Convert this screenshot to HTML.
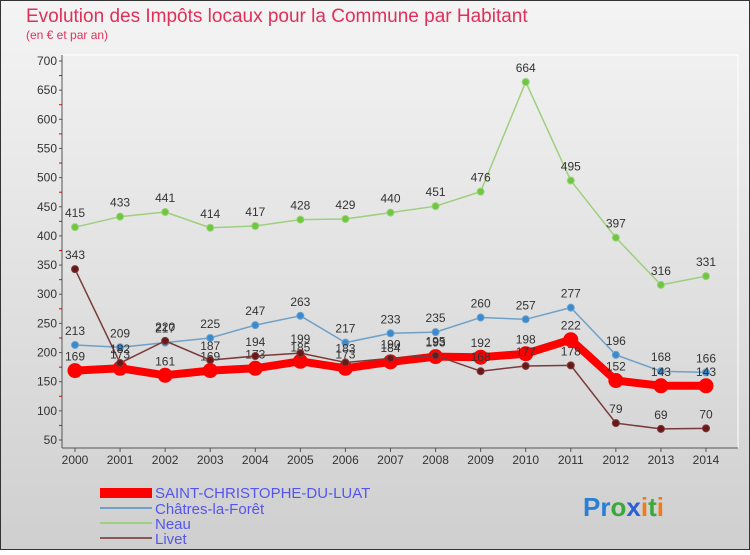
<!DOCTYPE html>
<html><head><meta charset="utf-8"><style>
body{margin:0;width:750px;height:550px;overflow:hidden;font-family:"Liberation Sans",sans-serif}
</style></head><body>
<svg width="750" height="550" xmlns="http://www.w3.org/2000/svg">
<defs><linearGradient id="bg" x1="0" y1="0" x2="0" y2="1"><stop offset="0" stop-color="#f4f4f4"/><stop offset="1" stop-color="#cfcfcf"/></linearGradient></defs>
<rect x="0.5" y="0.5" width="749" height="549" fill="url(#bg)" stroke="#333"/>
<text x="26" y="22" font-size="19" fill="#e0305a">Evolution des Impôts locaux pour la Commune par Habitant</text>
<text x="26" y="39" font-size="12" fill="#e0305a">(en € et par an)</text>
<g id="axes"></g><g id="series"></g>
<g>
<rect x="100" y="488" width="52" height="10" fill="#f00"/>
<text x="155" y="498" font-size="15" fill="#5555ee">SAINT-CHRISTOPHE-DU-LUAT</text>
<rect x="100" y="507" width="52" height="2" fill="#6ea0c8"/>
<text x="155" y="514" font-size="15" fill="#5555ee">Châtres-la-Forêt</text>
<rect x="100" y="522" width="52" height="2" fill="#9ecf7e"/>
<text x="155" y="529" font-size="15" fill="#5555ee">Neau</text>
<rect x="100" y="537" width="52" height="2" fill="#8a5858"/>
<text x="155" y="544" font-size="15" fill="#5555ee">Livet</text>
</g>
<text x="583" y="516" font-size="26" font-weight="bold"><tspan fill="#2a7fd4">Pr</tspan><tspan fill="#3aa83a">o</tspan><tspan fill="#2a60d4">x</tspan><tspan fill="#f07b1a">i</tspan><tspan fill="#3aa83a">t</tspan><tspan fill="#f07b1a">i</tspan></text>
</svg>
<script>
const years=[2000,2001,2002,2003,2004,2005,2006,2007,2008,2009,2010,2011,2012,2013,2014];
const yTicks=[50,100,150,200,250,300,350,400,450,500,550,600,650,700];
const saint=[169,173,161,169,173,185,173,184,193,192,198,222,152,143,143];
const chatres=[213,209,217,225,247,263,217,233,235,260,257,277,196,168,166];
const neau=[415,433,441,414,417,428,429,440,451,476,664,495,397,316,331];
const livet=[343,182,220,187,194,199,183,190,195,168,177,178,79,69,70];
const NS="http://www.w3.org/2000/svg";
const X=i=>75+i*(706-75)/(years.length-1);
const Y=v=>440-(v-50)*(440-61)/650;
function mk(t,a,p){const e=document.createElementNS(NS,t);for(const k in a)e.setAttribute(k,a[k]);p.appendChild(e);return e;}
const ax=document.getElementById('axes');
const frame=mk('rect',{x:62,y:55,width:676,height:393,fill:'none',stroke:'#fff'},ax);


const yl=mk('line',{x1:62,y1:55,x2:62,y2:448,stroke:'#555'},ax);


const xl=mk('line',{x1:62,y1:448,x2:738,y2:448,stroke:'#555'},ax);


yTicks.forEach(v=>{
 const t=mk('text',{x:57,y:Y(v)+4,'font-size':12,fill:'#333','text-anchor':'end'},ax);t.textContent=v;
 
 
 mk('line',{x1:59,y1:Y(v),x2:62,y2:Y(v),stroke:'#555'},ax);
 if(v<700)mk('line',{x1:59,y1:Y(v+25),x2:62,y2:Y(v+25),stroke:'#e00'},ax);
});
years.forEach((yr,i)=>{
 const t=mk('text',{x:X(i),y:464,'font-size':12,fill:'#333','text-anchor':'middle'},ax);t.textContent=yr;
 
 
 mk('line',{x1:X(i),y1:448,x2:X(i),y2:452,stroke:'#555'},ax);
});
const sg=document.getElementById('series');
function series(vals,name,color,w,r,dot){
 const g=mk('g',{},sg);
 
 
 const p=mk('polyline',{points:vals.map((v,i)=>X(i)+','+Y(v)).join(' '),fill:'none',stroke:color,'stroke-width':w,'stroke-linejoin':'round'},g);
 
 
 vals.forEach((v,i)=>{
  const c=mk('circle',{cx:X(i),cy:Y(v),r:r,fill:dot,stroke:color,'stroke-width':1},g);
  
  
  const t=mk('text',{x:X(i),y:Y(v)-10,'font-size':12,fill:'#333','text-anchor':'middle'},g);t.textContent=v;
  
  
 });
}
series(neau,'neau','#9ecf7e',1.5,3.5,'#6cc83c');
series(chatres,'chatres','#6ea0c8',1.5,3.5,'#3a8ad0');
series(saint,'saint-christophe','#f00',8,7,'#f00');
series(livet,'livet','#7a3a3a',1.5,3.5,'#6a1818');
</script>
</body></html>
